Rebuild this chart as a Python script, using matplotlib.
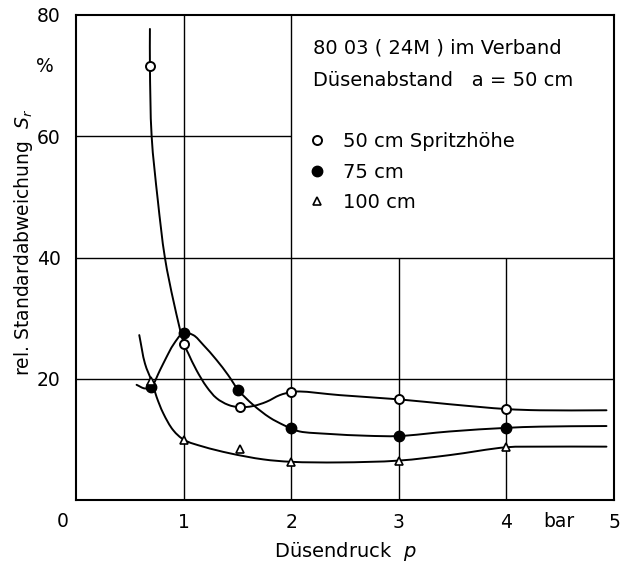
import numpy as np
import matplotlib
matplotlib.use("Agg")
import matplotlib.pyplot as plt
from matplotlib.path import Path
from matplotlib.patches import PathPatch

# ---- data ----
# measured points (Düsendruck p in bar, rel. Standardabweichung S_r in %)
p50 = [0.69, 1.0, 1.52, 2.0, 3.0, 4.0]
s50 = [71.6, 25.8, 15.3, 17.8, 16.6, 15.0]

p75 = [0.70, 1.0, 1.51, 2.0, 3.0, 4.0]
s75 = [18.7, 27.5, 18.1, 11.8, 10.55, 11.9]

p100 = [0.70, 1.0, 1.52, 2.0, 3.0, 4.0]
s100 = [19.6, 9.9, 8.4, 6.3, 6.5, 8.7]

# hand-drawn fitted curves
c50_x = [0.687, 0.687, 0.703, 0.76, 0.826, 0.91, 1.003, 1.043, 1.12, 1.213,
         1.306, 1.414, 1.517, 1.646, 1.77, 1.894, 2.0, 2.08, 2.45, 3.0, 3.47,
         4.0, 4.31, 4.93]
c50_y = [77.7, 71.6, 60.0, 49.5, 40.0, 32.5, 25.8, 24.2, 21.4, 18.7,
         16.8, 15.7, 15.3, 15.5, 16.2, 17.3, 17.8, 17.9, 17.3, 16.6, 15.8,
         15.0, 14.8, 14.8]

c75_x = [0.563, 0.64, 0.70, 0.78, 0.842, 0.904, 0.996, 1.09, 1.182, 1.306, 1.414,
         1.51, 1.646, 1.80, 1.925, 2.0, 2.08, 2.35, 2.7, 3.0, 3.47, 4.0, 4.31,
         4.93]
c75_y = [19.0, 18.4, 18.7, 21.4, 23.6, 25.6, 27.5, 27.2, 25.6, 23.1, 20.6,
         18.1, 15.7, 13.6, 12.4, 11.8, 11.3, 10.9, 10.6, 10.55, 11.3, 11.9, 12.1,
         12.2]

c100_x = [0.588, 0.641, 0.703, 0.749, 0.811, 0.904, 1.006, 1.182, 1.43, 1.74,
          2.0, 2.45, 3.0, 3.47, 4.0, 4.31, 4.93]
c100_y = [27.2, 22.5, 19.6, 17.0, 14.3, 11.5, 9.9, 8.8, 7.7, 6.7,
          6.3, 6.2, 6.5, 7.4, 8.7, 8.8, 8.8]

x_ticks = [1, 2, 3, 4, 5]
y_ticks = [20, 40, 60, 80]

labels = ["50 cm Spritzhöhe", "75 cm", "100 cm"]
header = ["80 03 ( 24M ) im Verband", "Düsenabstand   a = 50 cm"]

# ---- drawing ----
plt.rcParams['font.family'] = ['DejaVu Sans']
fig = plt.figure(figsize=(6.22, 5.69), dpi=100)
ax = fig.add_axes([76/622, 69/569, 538/622, 485/569])
ax.set_xlim(0, 5)
ax.set_ylim(0, 80)

for s in ax.spines.values():
    s.set_linewidth(1.5)

# grid (upper right area is kept free for the legend box)
gl = dict(color='black', lw=1.0, zorder=1)
ax.vlines([1, 2], 0, 80, **gl)
ax.vlines([3, 4], 0, 40, **gl)
ax.hlines([20, 40], 0, 5, **gl)
ax.hlines([60], 0, 2, **gl)


def smooth_path(xs, ys, sx=107.6, sy=6.06):
    """Centripetal Catmull-Rom through the traced points, as a Bezier path."""
    P = np.column_stack([np.asarray(xs) * sx, np.asarray(ys) * sy]).astype(float)
    n = len(P)
    d = np.sqrt(np.linalg.norm(np.diff(P, axis=0), axis=1))
    d[d == 0] = 1e-6
    t = np.concatenate([[0], np.cumsum(d)])
    M = np.zeros_like(P)
    for i in range(n):
        if i == 0:
            M[i] = (P[1] - P[0]) / (t[1] - t[0])
        elif i == n - 1:
            M[i] = (P[-1] - P[-2]) / (t[-1] - t[-2])
        else:
            a = (P[i] - P[i - 1]) / (t[i] - t[i - 1])
            b = (P[i + 1] - P[i - 1]) / (t[i + 1] - t[i - 1])
            c = (P[i + 1] - P[i]) / (t[i + 1] - t[i])
            M[i] = a - b + c
    verts = [P[0]]
    codes = [Path.MOVETO]
    for i in range(n - 1):
        dt = t[i + 1] - t[i]
        verts += [P[i] + M[i] * dt / 3, P[i + 1] - M[i + 1] * dt / 3, P[i + 1]]
        codes += [Path.CURVE4] * 3
    V = np.array(verts)
    V[:, 0] /= sx
    V[:, 1] /= sy
    return Path(V, codes)


for cx, cy in [(c50_x, c50_y), (c75_x, c75_y), (c100_x, c100_y)]:
    ax.add_patch(PathPatch(smooth_path(cx, cy), fill=False, lw=1.4,
                           edgecolor='black', zorder=2, capstyle='round'))

h50, = ax.plot(p50, s50, 'o', ms=6.5, mfc='white', mec='black', mew=1.4,
               ls='none', zorder=4, label=labels[0])
h75, = ax.plot(p75, s75, 'o', ms=7.5, mfc='black', mec='black',
               ls='none', zorder=3, label=labels[1])
h100, = ax.plot(p100, s100, '^', ms=5.5, mfc='white', mec='black', mew=1.2,
                ls='none', zorder=5, label=labels[2])

fs = 14
tfs = 13.5
ax.set_xticks(x_ticks)
ax.set_xticklabels([str(v) for v in x_ticks], fontsize=tfs)
ax.set_yticks(y_ticks)
ax.set_yticklabels([str(v) for v in y_ticks], fontsize=tfs)
ax.tick_params(length=0, pad=11)
ax.tick_params(axis='x', pad=9)

ax.text(-0.12, -3.6, "0", fontsize=tfs, ha='center', va='center', clip_on=False)
ax.text(4.49, -3.6, "bar", fontsize=tfs, ha='center', va='center', clip_on=False)
ax.text(-0.29, 71.5, "%", fontsize=tfs, ha='center', va='center', clip_on=False)

ax.set_xlabel("Düsendruck  $p$", fontsize=fs, labelpad=6)
fig.text(24/622, 1 - 242/569, "rel. Standardabweichung  $S_r$", fontsize=13.5,
         rotation=90, ha='center', va='center')

ax.text(2.20, 74.5, header[0], fontsize=fs, ha='left', va='center')
ax.text(2.20, 69.2, header[1], fontsize=fs, ha='left', va='center')

leg = ax.legend(handles=[h50, h75, h100], loc='upper left',
                bbox_to_anchor=(0.434, 0.759), frameon=False, fontsize=fs,
                handlelength=0.8, handletextpad=0.9, labelspacing=0.6,
                borderpad=0, borderaxespad=0)

fig.savefig("out.png", dpi=100)
